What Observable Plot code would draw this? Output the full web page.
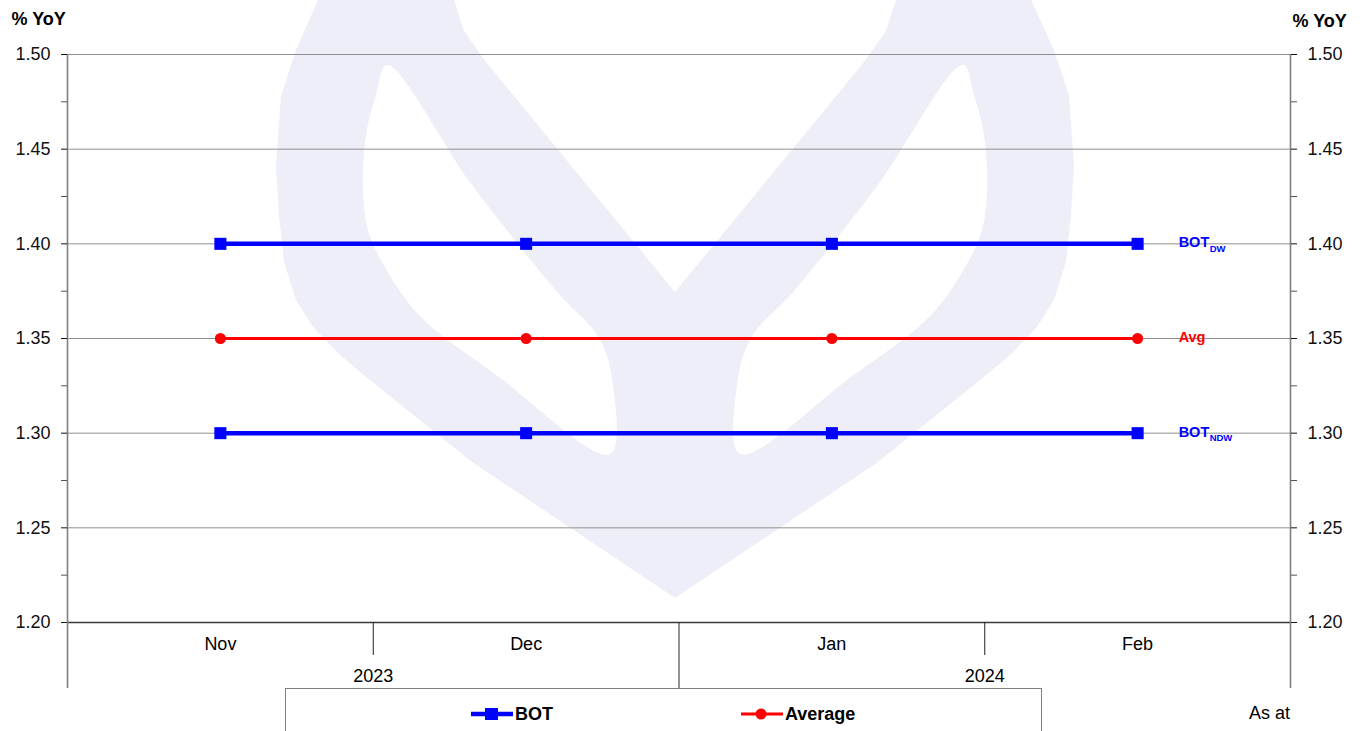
<!DOCTYPE html>
<html>
<head>
<meta charset="utf-8">
<script src="https://cdn.jsdelivr.net/npm/d3@7"></script>
<script src="https://cdn.jsdelivr.net/npm/@observablehq/plot@0.6"></script>
<style>
  body { margin: 0; background: #fff; font-family: Arial, "Liberation Sans", sans-serif; }
  #wrap { position: relative; width: 1369px; height: 731px; overflow: hidden; background: #fff; }
  #wm { position: absolute; left: 0; top: 0; }
  #chart { position: absolute; left: 0; top: 0; }
  #legend { position: absolute; left: 285px; top: 688px; width: 757px; height: 70px;
            border: 1.5px solid #808080; box-sizing: border-box; }
  .item { position: absolute; top: 13px; display: flex; align-items: center; height: 24px;
          font-weight: bold; font-size: 18px; color: #000; }
  .item svg { margin-right: 1px; }
  #asat { position: absolute; right: 79px; top: 703px; font-size: 18px; color: #000; }
</style>
</head>
<body>
<div id="wrap">
  <svg id="wm" width="1369" height="731"></svg>
  <div id="chart"></div>
  <div id="legend"></div>
  <div id="asat">As at</div>
</div>
<script>
// ---- data ----
const months = ["Nov", "Dec", "Jan", "Feb"];
const monthYears = ["2023", "2023", "2024", "2024"];
const years = ["2023", "2024"];
const botDW = [1.40, 1.40, 1.40, 1.40];
const botNDW = [1.30, 1.30, 1.30, 1.30];
const average = [1.35, 1.35, 1.35, 1.35];
const yTicks = [1.20, 1.25, 1.30, 1.35, 1.40, 1.45, 1.50];
const endLabelMain = ["BOT", "Avg", "BOT"];
const endLabelSub = ["DW", "", "NDW"];
const endLabelValue = [1.40, 1.35, 1.30];
const endLabelColor = ["#0000ff", "#ff0000", "#0000ff"];
const legendNames = ["BOT", "Average"];

// ---- derived tables ----
const rows = months.map((m, i) => ({ i, month: m, year: monthYears[i], dw: botDW[i], ndw: botNDW[i], avg: average[i] }));
const minorTicks = yTicks.slice(1).map((t, k) => (t + yTicks[k]) / 2);
const shortSeps = [], longSeps = [];
for (let i = 0; i < months.length - 1; i++) {
  (monthYears[i] === monthYears[i + 1] ? shortSeps : longSeps).push(i + 0.5);
}
const yearPos = years.map(y => d3.mean(rows.filter(r => r.year === y), r => r.i));
const endLabels = endLabelMain.map((m, k) => ({ main: m, sub: endLabelSub[k], value: endLabelValue[k], color: endLabelColor[k] }));
const last = months.length - 1;

// ---- decorative watermark (background logo) ----
(function () {
  const svg = d3.select("#wm");
  const line = d3.line().curve(d3.curveCatmullRomClosed.alpha(0.5));
  const outer = [[318,0],[296,50],[281,96],[276,165],[279,215],[284,262],[296,300],[313,327],[340,355],[366,377],[472,462],[675,598],
                 [878,462],[984,377],[1010,355],[1037,327],[1054,300],[1066,262],[1071,215],[1074,165],[1069,96],[1054,50],[1031,0],
                 [896,0],[886,31],[864,62],[795,146],[675,292],[555,146],[486,62],[464,31],[454,0]];
  const holeL = [[387,65],[376,95],[366,135],[363,192],[368,230],[382,262],[419,315],[499,377],[610,454],[613,385],[599,338],[557,292],[472,185]];
  const holeR = holeL.map(([x, y]) => [1350 - x, y]);
  const lin = d3.line();
  const d = lin(outer) + "Z" + line(holeL) + line(holeR);
  svg.append("path").attr("d", d).attr("fill", "#eeeef8").attr("fill-rule", "evenodd");
})();

// ---- chart ----
const chart = Plot.plot({
  width: 1369,
  height: 688,
  marginLeft: 67,
  marginRight: 79,
  marginTop: 54,
  marginBottom: 66,
  style: { background: "transparent", fontFamily: "Arial, 'Liberation Sans', sans-serif", fontSize: "18px", color: "#000", overflow: "visible" },
  x: { type: "linear", domain: [-0.5, months.length - 0.5] },
  y: { domain: [yTicks[0], yTicks[yTicks.length - 1]] },
  color: { type: "identity" },
  marks: [
    Plot.ruleY(yTicks.slice(1), { stroke: "#8f8f8f", strokeWidth: 1 }),
    Plot.ruleY([yTicks[0]], { stroke: "#3a3a3a", strokeWidth: 1.3 }),
    Plot.ruleX([-0.5, months.length - 0.5], { stroke: "#7f7f7f", strokeWidth: 1.6 }),
    // y axes
    Plot.axisY({ anchor: "left", ticks: yTicks, tickFormat: d => d.toFixed(2), tickSize: 6, tickPadding: 11, fontSize: 18, label: null, color: "#111" }),
    Plot.axisY({ anchor: "left", ticks: minorTicks, tickFormat: () => "", tickSize: 6, label: null, color: "#555" }),
    Plot.axisY({ anchor: "right", ticks: yTicks, tickFormat: d => d.toFixed(2), tickSize: 6, tickPadding: 11, fontSize: 18, label: null, color: "#111" }),
    Plot.axisY({ anchor: "right", ticks: minorTicks, tickFormat: () => "", tickSize: 6, label: null, color: "#555" }),
    // x axis: months, years, separators
    Plot.axisX({ ticks: d3.range(months.length), tickFormat: i => months[i], tickSize: 0, tickPadding: 15, fontSize: 18, label: null }),
    Plot.axisX({ ticks: yearPos, tickFormat: v => years[yearPos.indexOf(v)], tickSize: 0, tickPadding: 47, fontSize: 18, label: null }),
    Plot.axisX({ ticks: shortSeps, tickFormat: () => "", tickSize: 33, label: null, color: "#222" }),
    Plot.axisX({ ticks: longSeps, tickFormat: () => "", tickSize: 66, label: null, color: "#222" }),
    Plot.axisX({ ticks: [-0.5, months.length - 0.5], tickFormat: () => "", tickSize: 66, label: null, color: "#7f7f7f", strokeWidth: 1.6 }),
    // titles
    Plot.text(["% YoY"], { frameAnchor: "top-left", dx: -56, dy: -35, lineAnchor: "middle", textAnchor: "start", fontWeight: "bold", fontSize: 18 }),
    Plot.text(["% YoY"], { frameAnchor: "top-right", dx: 2, dy: -33, lineAnchor: "middle", textAnchor: "start", fontWeight: "bold", fontSize: 18 }),
    // series
    Plot.line(rows, { x: "i", y: "dw", stroke: "#0000ff", strokeWidth: 4.5 }),
    Plot.line(rows, { x: "i", y: "ndw", stroke: "#0000ff", strokeWidth: 4.5 }),
    Plot.line(rows, { x: "i", y: "avg", stroke: "#ff0000", strokeWidth: 3 }),
    Plot.dot(rows, { x: "i", y: "dw", symbol: "square", r: 6.8, fill: "#0000ff" }),
    Plot.dot(rows, { x: "i", y: "ndw", symbol: "square", r: 6.8, fill: "#0000ff" }),
    Plot.dot(rows, { x: "i", y: "avg", symbol: "circle", r: 5.5, fill: "#ff0000" }),
    // end labels
    Plot.text(endLabels, { x: () => last, y: "value", text: "main", dx: 41, dy: -1, textAnchor: "start", fill: d => d.color, fontWeight: "bold", fontSize: 14.5 }),
    Plot.text(endLabels, { x: () => last, y: "value", text: "sub", dx: 72, dy: 5, textAnchor: "start", fill: d => d.color, fontWeight: "bold", fontSize: 9.5 })
  ]
});
document.getElementById("chart").appendChild(chart);

// ---- legend ----
const legend = document.getElementById("legend");
const legendSpecs = [
  { name: legendNames[0], color: "#0000ff", symbol: "square", left: 184 },
  { name: legendNames[1], color: "#ff0000", symbol: "circle", left: 454 }
];
legendSpecs.forEach(s => {
  const div = document.createElement("div");
  div.className = "item";
  div.style.left = s.left + "px";
  const sw = d3.create("svg").attr("width", 44).attr("height", 24);
  sw.append("line").attr("x1", 1).attr("x2", 43).attr("y1", 12).attr("y2", 12)
    .attr("stroke", s.color).attr("stroke-width", s.symbol === "square" ? 4.5 : 3);
  if (s.symbol === "square") sw.append("rect").attr("x", 15).attr("y", 6).attr("width", 13).attr("height", 12).attr("fill", s.color);
  else sw.append("circle").attr("cx", 21).attr("cy", 12).attr("r", 5.5).attr("fill", s.color);
  div.appendChild(sw.node());
  const t = document.createElement("span");
  t.textContent = s.name;
  div.appendChild(t);
  legend.appendChild(div);
});
</script>
</body>
</html>
